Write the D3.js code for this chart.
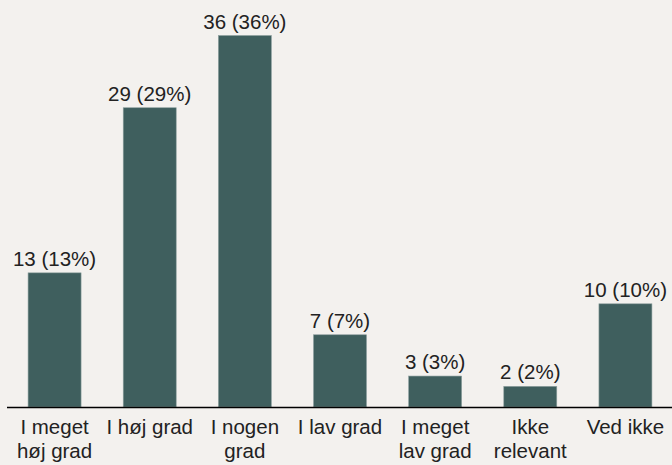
<!DOCTYPE html>
<html>
<head>
<meta charset="utf-8">
<script src="https://cdn.jsdelivr.net/npm/d3@7"></script>
<style>
	body { margin: 0; background: #f3f1ee; }
	svg { display: block; }
	text { font-family: "Liberation Sans", Arial, sans-serif; fill: #222; }
</style>
</head>
<body>
<svg id="chart" width="672" height="465"></svg>
<script>
// categories (line breaks as in the picture)
var categories = ["I meget\nhøj grad", "I høj grad", "I nogen\ngrad", "I lav grad", "I meget\nlav grad", "Ikke\nrelevant", "Ved ikke"];
var counts = [13, 29, 36, 7, 3, 2, 10];
var percents = [13, 29, 36, 7, 3, 2, 10];

var svg = d3.select("#chart");

var x = d3.scaleBand()
	.domain(categories)
	.range([7, 673])
	.paddingInner(0.443)
	.paddingOuter(0.2215);

var y = d3.scaleLinear()
	.domain([0, 36])
	.range([407, 35.5]);

//bars
svg.selectAll("rect.bar")
	.data(counts)
	.enter().append("rect")
	.attr("class", "bar")
	.attr("x", function(d, i) { return x(categories[i]); })
	.attr("y", function(d) { return y(d); })
	.attr("width", x.bandwidth())
	.attr("height", function(d) { return y(0) - y(d); })
	.attr("fill", "#3f5f5e")
	.attr("stroke", "#8ea09f")
	.attr("stroke-width", 0.6);

//value labels
svg.selectAll("text.value")
	.data(counts)
	.enter().append("text")
	.attr("class", "value")
	.attr("x", function(d, i) { return x(categories[i]) + x.bandwidth() / 2; })
	.attr("y", function(d) { return y(d) - 7; })
	.attr("text-anchor", "middle")
	.style("font-size", "20.5px")
	.text(function(d, i) { return d + " (" + percents[i] + "%)"; });

//x axis
var axis = svg.append("g")
	.attr("transform", "translate(0," + y(0) + ")")
	.call(d3.axisBottom(x).tickSize(0).tickFormat(""));
axis.select(".domain").attr("stroke", "#000").attr("stroke-width", 1.6)
	.attr("d", "M7,0.5H672");

axis.selectAll(".tick").each(function(d) {
	var t = d3.select(this).append("text")
		.attr("text-anchor", "middle")
		.style("font-size", "20.5px")
		.attr("y", 27);
	d.split("\n").forEach(function(line, k) {
		t.append("tspan").attr("x", 0).attr("dy", k == 0 ? 0 : 23.5).text(line);
	});
});
</script>
</body>
</html>
